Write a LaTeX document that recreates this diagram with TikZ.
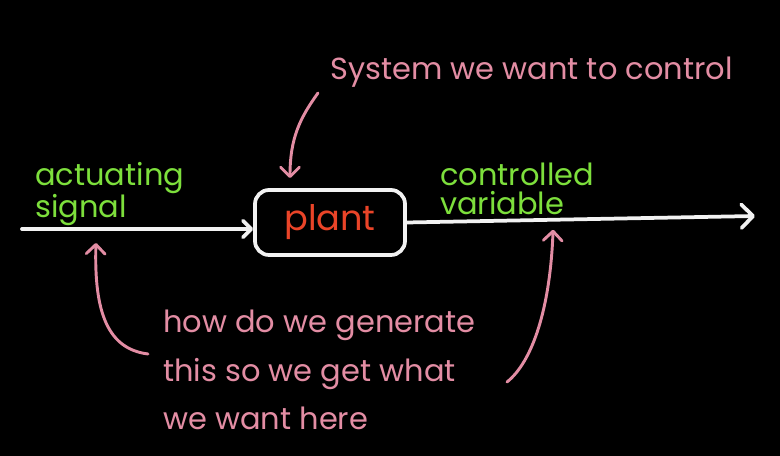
\documentclass[tikz,border=0pt]{standalone}
\usepackage{fontspec}
\setmainfont{Poppins}
\usetikzlibrary{arrows.meta,calc}
\definecolor{gr}{HTML}{7DDF3C}
\definecolor{pk}{HTML}{E38DA4}
\definecolor{rd}{HTML}{EA4428}
\definecolor{wh}{HTML}{F2F2F2}

\begin{document}
\begin{tikzpicture}[
  x=0.03cm, y=0.03cm,
  font=\fontsize{26}{30}\selectfont,
  lbl/.style={text=gr, align=left, anchor=base west, inner sep=0pt,
              font=\fontsize{26}{25.5}\selectfont},
  note/.style={text=pk, align=left, anchor=base west, inner sep=0pt},
  box/.style={draw=wh, line width=3.2pt, rounded corners=12pt,
              minimum width=4.5cm, minimum height=1.95cm, text=rd,
              font=\fontsize{30}{34}\selectfont},
  arr/.style={wh, line width=3.2pt, line cap=round,
              -{Straight Barb[length=#1,width=2*#1,round]}},
  arr/.default=7pt,
  hint/.style={pk, line width=2.5pt, line cap=round,
               -{Straight Barb[length=8pt,width=16pt,round]}},
]
% ---------- Background ----------
\fill[black] (0,0) rectangle (780,456);

% ---------- Plant and signal line ----------
\node[box] (plant) at (330,233.5) {plant};
\coordinate (input) at (22,227);
\coordinate (output) at (755,240);
\draw[arr] (input) -- (input -| plant.west);
\draw[arr=10pt] (plant.east) -- (output);

% ---------- Labels ----------
\node[lbl] (act) at (35,238) {actuating\\signal};
\node[lbl] (ctrl) at (440,241) {controlled\\variable};
\node[note] (sys) at (330,376) {System we want to control};
\node[note, font=\fontsize{26}{41.7}\selectfont] (how) at (163,26)
  {how do we generate\\this so we get what\\we want here};

% ---------- Hints ----------
\coordinate (asig) at ($(input)!0.32!(input -| plant.west)$);
\coordinate (cvar) at ($(plant.east)!0.42!(output)$);
\draw[hint] ([shift={(-12,-13)}]sys.base west)
  .. controls +(-18,-25) and +(0,40) .. ([shift={(-40,10)}]plant.north);
\draw[hint] ([shift={(-15,76)}]how.base west)
  .. controls +(-40,5) and +(-2,-70) .. ([shift={(0,-14)}]asig);
\draw[hint] ([shift={(344,48)}]how.base west)
  .. controls +(25,20) and +(-3,-80) .. ([shift={(0,-10)}]cvar);
\end{tikzpicture}
\end{document}
